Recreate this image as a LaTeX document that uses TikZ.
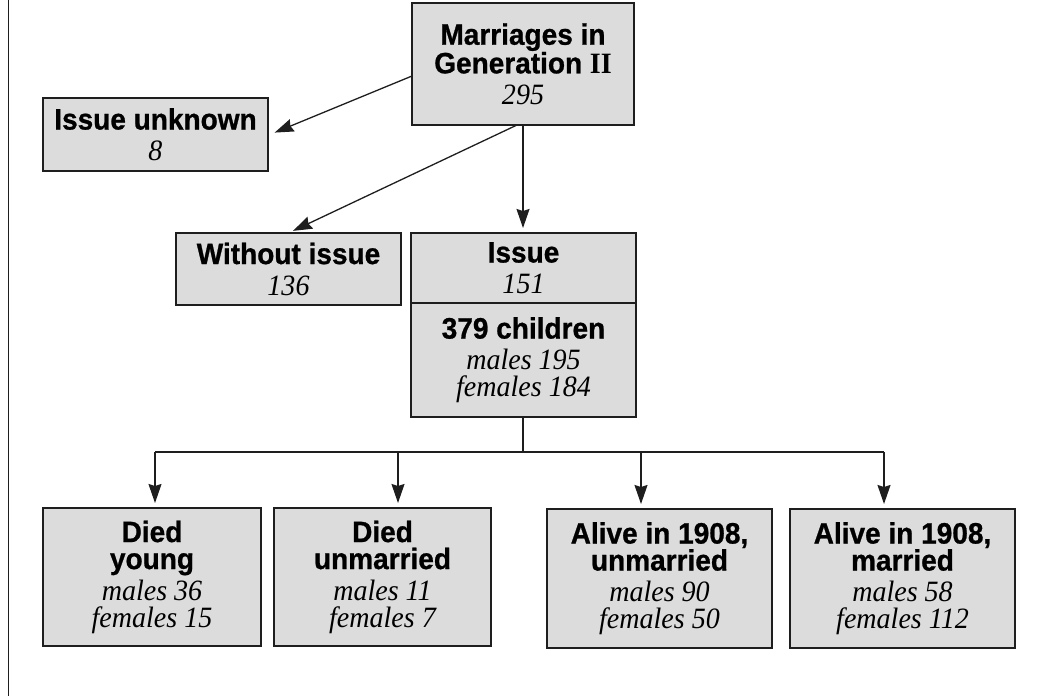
\documentclass[tikz,border=0pt]{standalone}
\usepackage{fontspec}
\setmainfont{Liberation Serif}[FakeStretch=0.95]
\setsansfont{Liberation Sans}[FakeStretch=0.95, BoldFeatures={FakeBold=0.8}]
\usetikzlibrary{arrows.meta,positioning}
\definecolor{boxgray}{RGB}{220,220,220}
\definecolor{inkgray}{RGB}{30,30,30}
\newcommand\hd[1]{{\sffamily\bfseries #1}}
\newcommand\nm[1]{{\itshape #1}}
\tikzset{
	box/.style={draw=inkgray, line width=2pt, fill=boxgray, minimum width=225pt, inner sep=0pt, outer sep=0pt, align=center, font=\fontsize{29.5}{27}\selectfont},
	link/.style={draw=inkgray, line width=1.3pt},
	arr/.style={link, -{Stealth[length=19pt,width=13pt,inset=2pt]}, shorten >=5pt},
}

\begin{document}
\begin{tikzpicture}[x=1pt,y=-1pt]
			%%%%% START %%%%%
			\useasboundingbox (0,0) rectangle (1040,696);
			\draw[line width=1.5pt, color=inkgray] (8.5,0) -- (8.5,696);
			
			\node[box, minimum width=222pt, minimum height=122pt] (gen) at (523,64) {\hd{Marriages in}\\ \hd{Generation {\rmfamily II}}\\[4pt] \nm{295}};
			\node[box, minimum height=73pt] (unknown) at (155.5,134.5) {\hd{Issue unknown}\\[4pt] \nm{8}};
			\node[box, minimum height=72pt] (without) at (288.5,269) {\hd{Without issue}\\[4pt] \nm{136}};
			\node[box, minimum height=70pt] (issue) at (523.5,268) {\hd{Issue}\\[4pt] \nm{151}};
			\node[box, minimum height=114pt, below=0pt of issue] (children) {\hd{379 children}\\[4pt] \nm{males 195}\\ \nm{females 184}};
			
			\node[box, minimum width=218pt, minimum height=138pt] (dyoung) at (152,577) {\hd{Died}\\ \hd{young}\\[4pt] \nm{males 36}\\ \nm{females 15}};
			\node[box, minimum width=217pt, minimum height=138pt] (dunm) at (382.5,577) {\hd{Died}\\ \hd{unmarried}\\[4pt] \nm{males 11}\\ \nm{females 7}};
			\node[box, minimum height=139pt] (aunm) at (659.5,578.5) {\hd{Alive in 1908,}\\ \hd{unmarried}\\[4pt] \nm{males 90}\\ \nm{females 50}};
			\node[box, minimum height=139pt] (amar) at (902.5,578.5) {\hd{Alive in 1908,}\\ \hd{married}\\[4pt] \nm{males 58}\\ \nm{females 112}};
			
			\draw[arr] ([yshift=-12pt]gen.west) -- ([xshift=2pt]unknown.east);
			\draw[arr] ([xshift=-6pt]gen.south) -- (without.north);
			\draw[arr] (gen.south) -- (gen.south |- issue.north);
			
			\coordinate (bus) at (523,452);
			\coordinate (b1) at (155,452);
			\coordinate (b2) at (398,452);
			\coordinate (b3) at (641,452);
			\coordinate (b4) at (884,452);
			\draw[link] (bus |- children.south) -- (bus);
			\draw[link] (b1) -- (b4);
			\draw[arr] (b1) -- (b1 |- dyoung.north);
			\draw[arr] (b2) -- (b2 |- dunm.north);
			\draw[arr] (b3) -- (b3 |- aunm.north);
			\draw[arr] (b4) -- (b4 |- amar.north);
			%%%%% END %%%%%
\end{tikzpicture}
\end{document}
